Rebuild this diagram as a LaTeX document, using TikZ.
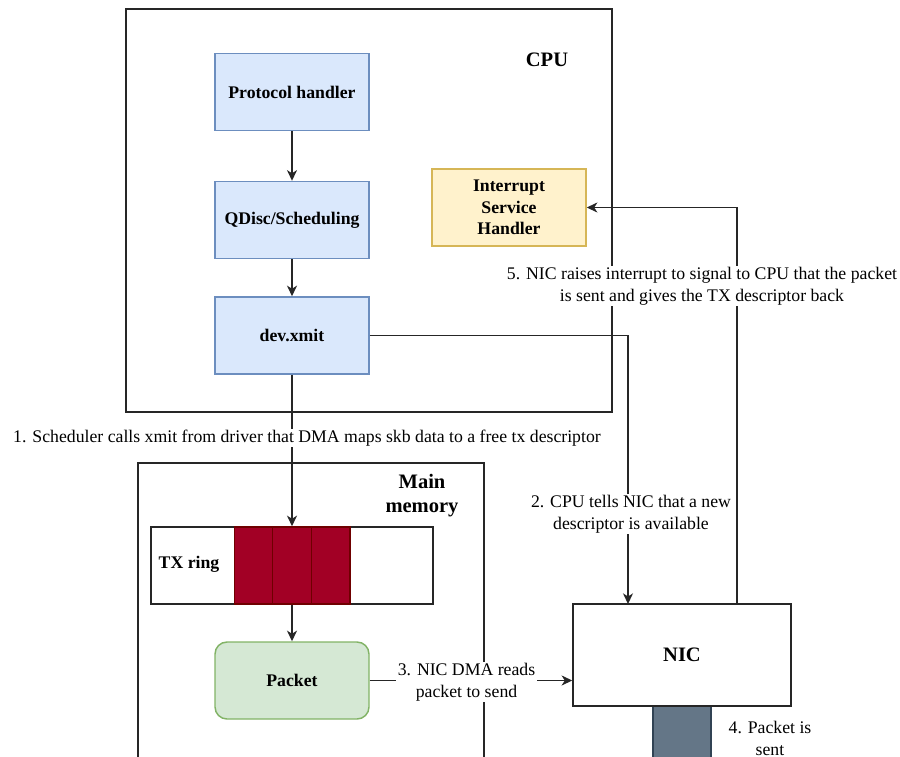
\documentclass[tikz,border=0pt]{standalone}
\usepackage{fontspec}
\setmainfont{Liberation Serif}
\usetikzlibrary{arrows.meta}

\definecolor{blueFill}{HTML}{DAE8FC}
\definecolor{blueLine}{HTML}{6C8EBF}
\definecolor{yellowFill}{HTML}{FFF2CC}
\definecolor{yellowLine}{HTML}{D6B656}
\definecolor{greenFill}{HTML}{D5E8D4}
\definecolor{greenLine}{HTML}{82B366}
\definecolor{ringFill}{HTML}{A20025}
\definecolor{ringLine}{HTML}{6F0000}
\definecolor{wireFill}{HTML}{647687}
\definecolor{wireLine}{HTML}{314354}
\definecolor{ink}{HTML}{262626}

\begin{document}
\begin{tikzpicture}[x=0.75pt,y=-0.75pt,
  bodyfont/.style={font=\fontsize{13.3}{16.5}\selectfont},
  titlefont/.style={font=\bfseries\fontsize{15.4}{18}\selectfont},
  stage/.style={draw=blueLine,fill=blueFill,line width=1.1pt,inner sep=0pt,
    minimum width=115.5pt,minimum height=57.75pt,align=center,
    font=\bfseries\fontsize{13.3}{16.1}\selectfont},
  frame/.style={draw=ink,line width=1.1pt},
  cell/.style={draw=ringLine,fill=ringFill,line width=1.1pt,inner sep=0pt,
    minimum width=28.9pt,minimum height=57.75pt},
  arr/.style={draw=ink,line width=1.1pt,
    -{Stealth[length=8pt,width=7.5pt,inset=2.4pt]}},
  edgelabel/.style={fill=white,inner sep=1pt,align=center,bodyfont},
]
\useasboundingbox (0,0) rectangle (900,757);

% containers
\node[frame,inner sep=0pt,minimum width=364.5pt,minimum height=302.25pt]
  (cpu) at (369,210.5) {};
\node[titlefont] (cpulabel) at (547,60) {CPU};

\begin{scope}
  \clip (0,0) rectangle (900,757);
  \node[frame,inner sep=0pt,minimum width=259.5pt,minimum height=252.75pt]
    (mem) at (311,631.5) {};
  \node[draw=wireLine,fill=wireFill,line width=1.1pt,inner sep=0pt,
    minimum width=43.5pt,minimum height=70.5pt] (wire) at (682,753) {};
\end{scope}
\node[titlefont,align=center] (memlabel) at (422,496) {Main\\memory};

% CPU side
\node[stage] (ph) at (292,92) {Protocol handler};
\node[stage] (qd) at (292,220) {QDisc/Scheduling};
\node[stage] (dx) at (292,335.5) {dev.xmit};
\node[stage,draw=yellowLine,fill=yellowFill] (isr) at (509,207.5)
  {Interrupt\\Service\\Handler};

% memory side
\node[frame,fill=white,inner sep=0pt,minimum width=211.5pt,minimum height=57.75pt]
  (ring) at (292,565.5) {};
\node[font=\bfseries\fontsize{13.3}{16}\selectfont] (ringlabel) at (189,564) {TX ring};
\node[cell] (c1) at (253.5,565.5) {};
\node[cell] (c2) at (292,565.5) {};
\node[cell] (c3) at (330.5,565.5) {};
\node[stage,draw=greenLine,fill=greenFill,rounded corners=9pt] (pkt) at (292,680.5) {Packet};

% NIC
\node[frame,fill=white,inner sep=0pt,minimum width=163.5pt,minimum height=76.5pt,
  titlefont] (nic) at (682,655) {NIC};
\coordinate (nicA) at (628,604);
\coordinate (nicB) at (737,604);

% connectors
\draw[arr] (ph) -- (qd);
\draw[arr] (qd) -- (dx);
\draw[arr] (dx.south) -- (c2.north);
\draw[arr] (c2.south) -- (pkt.north);
\draw[arr] (dx.east) -| (nicA);
\draw[arr] (nicB) |- (isr.east);
\draw[arr] (pkt.east) -- (nic.west |- pkt.east);

% connector labels
\node[edgelabel] (l1) at (307,438)
  {1. Scheduler calls xmit from driver that DMA maps skb data to a free tx descriptor};
\node[edgelabel] (l2) at (631,514) {2. CPU tells NIC that a new\\descriptor is available};
\node[edgelabel] (l3) at (466.5,682) {3. NIC DMA reads\\packet to send};
\node[bodyfont,align=center] (l4) at (770,738) {4. Packet is\\sent};
\node[edgelabel] (l5) at (702,286)
  {5. NIC raises interrupt to signal to CPU that the packet\\is sent and gives the TX descriptor back};
\end{tikzpicture}
\end{document}
